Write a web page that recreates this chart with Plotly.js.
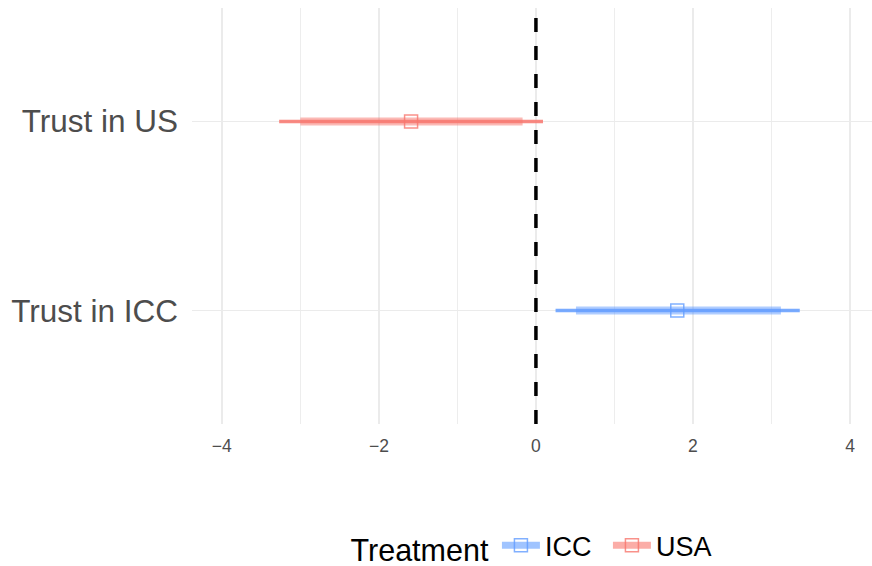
<!DOCTYPE html>
<html>
<head>
<meta charset="utf-8">
<script src="https://cdn.plot.ly/plotly-3.0.1.min.js"></script>
<style>html,body{margin:0;padding:0;background:#fff;}#chart{width:872px;height:566px;}</style>
</head>
<body>
<div id="chart"></div>
<script>
// Data
const outcomes = ['Trust in ICC', 'Trust in US'];
const treatments = ['ICC', 'USA'];
const estimate = [1.80, -1.59];
const ci95Low = [0.25, -3.27];
const ci95High = [3.36, 0.09];
const ci90Low = [0.51, -3.00];
const ci90High = [3.12, -0.17];
const xTicks = [-4, -2, 0, 2, 4];
const refLine = 0;

const colors = {ICC: [97, 156, 255], USA: [248, 118, 109]};
const rgba = (c, a) => `rgba(${c[0]},${c[1]},${c[2]},${a})`;

const traces = [];
treatments.forEach((t, i) => {
  const c = colors[t];
  traces.push({
    type: 'scatter', mode: 'lines', x: [ci95Low[i], ci95High[i]], y: [outcomes[i], outcomes[i]],
    line: {color: rgba(c, 0.85), width: 3.5}, legendgroup: t, showlegend: false, hoverinfo: 'skip'
  });
  traces.push({
    type: 'scatter', mode: 'lines', x: [ci90Low[i], ci90High[i]], y: [outcomes[i], outcomes[i]],
    line: {color: rgba(c, 0.5), width: 8}, legendgroup: t, showlegend: false, hoverinfo: 'skip'
  });
  traces.push({
    type: 'scatter', mode: 'lines+markers', x: [estimate[i]], y: [outcomes[i]], name: t,
    legendgroup: t, showlegend: true,
    line: {color: rgba(c, 0.6), width: 7},
    marker: {symbol: 'square-open', size: 13, color: rgba(c, 0.8), line: {width: 1.5, color: rgba(c, 0.8)}}
  });
});

const layout = {
  width: 872, height: 566,
  margin: {l: 192, r: 0, t: 8, b: 142},
  paper_bgcolor: '#fff', plot_bgcolor: '#fff',
  font: {family: 'Liberation Sans, Arial, sans-serif', color: '#4d4d4d'},
  xaxis: {
    range: [-4.38, 4.28], tickvals: xTicks, ticks: '', showline: false, zeroline: false,
    showgrid: true, gridcolor: '#EBEBEB', gridwidth: 1.7,
    minor: {dtick: 1, tick0: 0, showgrid: true, gridcolor: '#EBEBEB', gridwidth: 0.9},
    tickfont: {size: 17.5, color: '#4d4d4d'}, ticklabelstandoff: 9
  },
  yaxis: {
    type: 'category', categoryorder: 'array', categoryarray: outcomes,
    range: [-0.6, 1.6], ticks: '', showline: false, zeroline: false,
    showgrid: true, gridcolor: '#EBEBEB', gridwidth: 1.7,
    tickfont: {size: 31.5, color: '#4d4d4d'}, ticklabelstandoff: 13
  },
  shapes: [{
    type: 'line', xref: 'x', yref: 'paper', x0: refLine, x1: refLine, y0: 0, y1: 1,
    line: {color: '#000', width: 3.5, dash: '14px,14px'}, layer: 'above'
  }],
  showlegend: true,
  legend: {
    orientation: 'h', x: 0.503, xanchor: 'center', xref: 'paper',
    y: 0.035, yanchor: 'middle', yref: 'container',
    title: {text: 'Treatment', side: 'left', font: {size: 30.5, color: '#000'}},
    font: {size: 27, color: '#000'}, itemwidth: 38, tracegroupgap: 0,
    entrywidth: 58, entrywidthmode: 'pixels'
  }
};

Plotly.newPlot('chart', traces, layout, {displayModeBar: false, staticPlot: true});
</script>
</body>
</html>
